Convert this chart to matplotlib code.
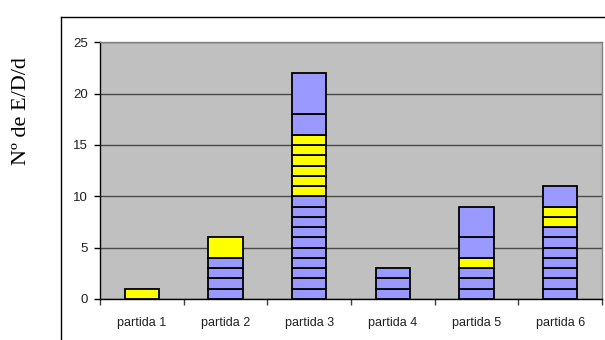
import matplotlib
matplotlib.use("Agg")
import matplotlib.pyplot as plt
from matplotlib.lines import Line2D

# Categories and the stacked segments of each bar (bottom to top)
categories = ['partida 1', 'partida 2', 'partida 3', 'partida 4', 'partida 5', 'partida 6']
seg_heights = [
    [1],
    [1, 1, 1, 1, 2],
    [1, 1, 1, 1, 1, 1, 1, 1, 1, 1, 1, 1, 1, 1, 1, 1, 2, 4],
    [1, 1, 1],
    [1, 1, 1, 1, 2, 3],
    [1, 1, 1, 1, 1, 1, 1, 1, 1, 2],
]
# 'B' = blue segment, 'Y' = yellow segment
seg_kinds = [
    'Y',
    'BBBBY',
    'BBBBBBBBBBYYYYYYBB',
    'BBB',
    'BBBYBB',
    'BBBBBBBYYB',
]
y_ticks = [0, 5, 10, 15, 20, 25]

colors = {'B': '#9999FF', 'Y': '#FFFF00'}

fig = plt.figure(figsize=(6.05, 3.4), dpi=100)
ax = fig.add_axes([0.1653, 0.1206, 0.8297, 0.755])
ax.set_facecolor('#C0C0C0')

for i, (heights, kinds) in enumerate(zip(seg_heights, seg_kinds)):
    bottom = 0
    for h, k in zip(heights, kinds):
        ax.bar(i, h, bottom=bottom, width=0.41, color=colors[k],
               edgecolor='black', linewidth=1.3, zorder=3)
        bottom += h

ax.set_xlim(-0.5, len(categories) - 0.5)
ax.set_ylim(0, 25)
ax.set_yticks(y_ticks)
ax.yaxis.grid(True, color='#4a4a4a', linewidth=1.0, zorder=1)
ax.set_axisbelow(True)

# category labels at bar centres, tick marks on the category boundaries
ax.set_xticks(range(len(categories)))
ax.set_xticklabels(categories, fontsize=9, fontfamily='Liberation Sans',
                   color='#202020')
ax.set_xticks([i - 0.5 for i in range(len(categories) + 1)], minor=True)
ax.tick_params(axis='x', which='major', length=0, pad=13)
ax.tick_params(axis='x', which='minor', length=4, width=1, color='#404040')
ax.tick_params(axis='y', length=4, width=1, pad=4.5, labelsize=9.5,
               labelcolor='#202020')
for lbl in ax.get_yticklabels():
    lbl.set_fontfamily('Liberation Sans')

for side in ['left', 'bottom']:
    ax.spines[side].set_color('black')
    ax.spines[side].set_linewidth(1.0)
for side in ['top', 'right']:
    ax.spines[side].set_color('#808080')
    ax.spines[side].set_linewidth(1.0)

fig.text(0.036, 0.674, 'Nº de E/D/d', rotation=90, ha='center', va='center',
         fontsize=16, fontfamily='Liberation Serif')

# outer chart frame
fig.add_artist(Line2D([0.1008, 0.1008], [0, 0.951], color='black', linewidth=1.0,
                      transform=fig.transFigure))
fig.add_artist(Line2D([0.1008, 1.0], [0.951, 0.951], color='black', linewidth=1.0,
                      transform=fig.transFigure))

fig.savefig('out.png', dpi=100)
